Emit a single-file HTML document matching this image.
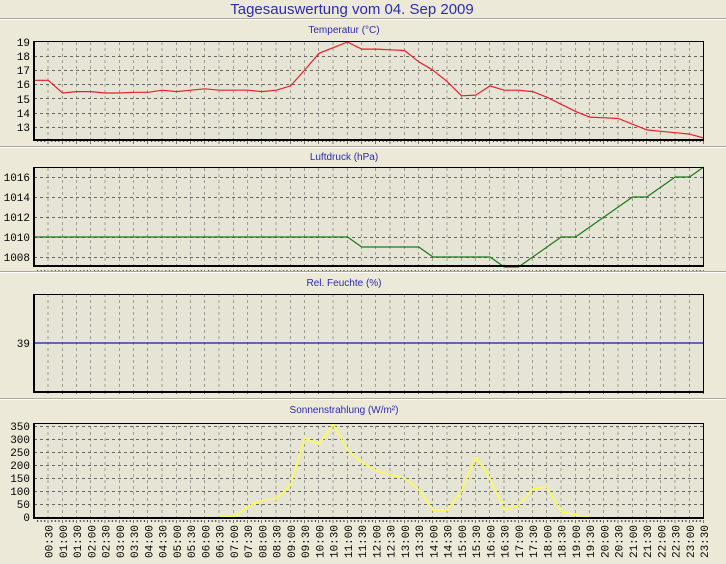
<!DOCTYPE html>
<html><head><meta charset="utf-8"><style>
html,body{margin:0;padding:0;background:#ECE9D8;}
svg{display:block;}
</style></head><body>
<svg width="726" height="564" xmlns="http://www.w3.org/2000/svg" font-family="Liberation Sans, sans-serif">
<defs>
<pattern id="vg" x="34" y="0" width="14.25" height="6" patternUnits="userSpaceOnUse">
<line x1="14.25" y1="0" x2="14.25" y2="3" stroke="#555" stroke-width="1"/>
</pattern>
<pattern id="tk" x="34" y="0" width="14.25" height="10" patternUnits="userSpaceOnUse">
<line x1="14.25" y1="0" x2="14.25" y2="4" stroke="#000" stroke-width="1"/>
<line x1="3.56" y1="0" x2="3.56" y2="2" stroke="#333" stroke-width="1"/>
<line x1="7.12" y1="0" x2="7.12" y2="2" stroke="#333" stroke-width="1"/>
<line x1="10.69" y1="0" x2="10.69" y2="2" stroke="#333" stroke-width="1"/>
</pattern>
</defs>
<rect width="726" height="564" fill="#ECE9D8"/>
<text x="352" y="14" text-anchor="middle" font-size="15" fill="#2b2bb0">Tagesauswertung vom 04. Sep 2009</text>
<g stroke-width="1">
<line x1="0" y1="18.5" x2="726" y2="18.5" stroke="#aca899"/><line x1="0" y1="19.5" x2="726" y2="19.5" stroke="#fff"/>
<line x1="0" y1="146.5" x2="726" y2="146.5" stroke="#aca899"/><line x1="0" y1="147.5" x2="726" y2="147.5" stroke="#fff"/>
<line x1="0" y1="271.5" x2="726" y2="271.5" stroke="#aca899"/><line x1="0" y1="272.5" x2="726" y2="272.5" stroke="#fff"/>
<line x1="0" y1="398.5" x2="726" y2="398.5" stroke="#aca899"/><line x1="0" y1="399.5" x2="726" y2="399.5" stroke="#fff"/>
</g>
<g font-size="10" fill="#2b2bb0" text-anchor="middle">
<text x="344" y="33">Temperatur (°C)</text>
<text x="344" y="160">Luftdruck (hPa)</text>
<text x="344" y="286">Rel. Feuchte (%)</text>
<text x="344" y="413">Sonnenstrahlung (W/m²)</text>
</g>
<g fill="#E6E5D5">
<rect x="34" y="41" width="670" height="99"/>
<rect x="34" y="167" width="670" height="99"/>
<rect x="34" y="294" width="670" height="98"/>
<rect x="34" y="423" width="670" height="95"/>
</g>
<g fill="url(#vg)">
<rect x="34" y="41" width="662" height="99"/>
<rect x="34" y="167" width="662" height="99"/>
<rect x="34" y="294" width="662" height="98"/>
<rect x="34" y="423" width="662" height="95"/>
</g>
<g fill="url(#tk)">
<rect x="34" y="141" width="670" height="4"/>
<rect x="34" y="267" width="670" height="4"/>
<rect x="34" y="393" width="670" height="4"/>
<rect x="34" y="519" width="670" height="4"/>
</g>
<g stroke="#666" stroke-dasharray="3,3" stroke-width="1">
<line x1="34" x2="704" y1="56.5" y2="56.5"/><line x1="34" x2="704" y1="70.5" y2="70.5"/><line x1="34" x2="704" y1="84.5" y2="84.5"/><line x1="34" x2="704" y1="98.5" y2="98.5"/><line x1="34" x2="704" y1="113.5" y2="113.5"/><line x1="34" x2="704" y1="127.5" y2="127.5"/>
<line x1="34" x2="704" y1="177.5" y2="177.5"/><line x1="34" x2="704" y1="197.5" y2="197.5"/><line x1="34" x2="704" y1="217.5" y2="217.5"/><line x1="34" x2="704" y1="237.5" y2="237.5"/><line x1="34" x2="704" y1="257.5" y2="257.5"/>
<line x1="34" x2="704" y1="426.5" y2="426.5"/><line x1="34" x2="704" y1="439.5" y2="439.5"/><line x1="34" x2="704" y1="452.5" y2="452.5"/><line x1="34" x2="704" y1="465.5" y2="465.5"/><line x1="34" x2="704" y1="478.5" y2="478.5"/><line x1="34" x2="704" y1="491.5" y2="491.5"/><line x1="34" x2="704" y1="504.5" y2="504.5"/><line x1="34" x2="704" y1="517.5" y2="517.5"/>
</g>
<polyline fill="none" stroke="#e8202a" stroke-width="1.2" points="34,80.3 48.25,80.3 62.5,93 76.75,91.6 91,91.6 105.25,93 119.5,93 133.75,92.3 148,92.3 162.25,90.2 176.5,91.6 190.75,90.2 205,88.8 219.25,90.2 233.5,90.2 247.75,90.2 262,91.6 276.25,90.2 290.5,85.9 304.75,70 319,53.3 333.25,47.7 347.5,42 361.75,49.1 376,49.1 390.25,49.8 404.5,50.5 418.75,61.8 433,70.3 447.25,81.7 461.5,95.8 475.75,95.1 490,85.9 504.25,90.2 518.5,90.2 532.75,91.6 547,97.3 561.25,104.3 575.5,111.4 589.75,117.1 604,117.8 618.25,118.5 632.5,124.2 646.75,129.9 661,131.3 675.25,132.7 689.5,134.1 703.75,138"/>
<polyline fill="none" stroke="#1a7a1a" stroke-width="1.2" points="34,237 347.5,237 361.75,247 418.75,247 433,257 490,257 504.25,267 518.5,267 532.75,257 547,247 561.25,237 575.5,237 589.75,227 604,217 618.25,207 632.5,197 646.75,197 661,187 675.25,177 689.5,177 703.75,167"/>
<line x1="34" x2="704" y1="343" y2="343" stroke="#1a1aa0" stroke-width="1.3"/>
<polyline fill="none" stroke="#ffff40" stroke-width="1.4" points="219.25,517 233.5,517 247.75,506.6 262,500 276.25,498.8 290.5,485 304.75,438.2 319,444.2 333.25,424.2 347.5,450.2 361.75,462.4 376,470.2 390.25,475.4 404.5,478 418.75,489.7 433,510 447.25,510 461.5,491 475.75,457.2 490,478 504.25,510 518.5,505.3 532.75,488.9 547,487.1 561.25,511.8 575.5,515 589.75,517"/>
<g fill="none" stroke="#000">
<rect x="34" y="41.5" width="669.5" height="98" stroke-width="1"/>
<rect x="34" y="167.5" width="669.5" height="98.5" stroke-width="1"/>
<rect x="34" y="294.5" width="669.5" height="97.5" stroke-width="1"/>
<rect x="34" y="423.5" width="669.5" height="94.5" stroke-width="1"/>
</g>
<g stroke="#000" stroke-width="2">
<line x1="34" y1="41" x2="34" y2="141"/><line x1="33" y1="140" x2="704" y2="140"/>
<line x1="34" y1="167" x2="34" y2="267"/><line x1="33" y1="266" x2="704" y2="266"/>
<line x1="34" y1="294" x2="34" y2="393"/><line x1="33" y1="392" x2="704" y2="392"/>
<line x1="34" y1="423" x2="34" y2="519"/><line x1="33" y1="518" x2="704" y2="518"/>
</g>
<g font-family="Liberation Mono, monospace" font-size="11" fill="#000" text-anchor="end">
<text x="30" y="46">19</text><text x="30" y="60">18</text><text x="30" y="74">17</text><text x="30" y="88">16</text><text x="30" y="103">15</text><text x="30" y="117">14</text><text x="30" y="131">13</text>
<text x="30" y="181">1016</text><text x="30" y="201">1014</text><text x="30" y="221">1012</text><text x="30" y="241">1010</text><text x="30" y="261">1008</text>
<text x="30" y="347">39</text>
<text x="30" y="430">350</text><text x="30" y="443">300</text><text x="30" y="456">250</text><text x="30" y="469">200</text><text x="30" y="482">150</text><text x="30" y="495">100</text><text x="30" y="508">50</text><text x="30" y="521">0</text>
</g>
<g font-family="Liberation Mono, monospace" font-size="11" fill="#000" text-anchor="end">
<text transform="translate(52.5,525) rotate(-90)">00:30</text>
<text transform="translate(66.75,525) rotate(-90)">01:00</text>
<text transform="translate(81,525) rotate(-90)">01:30</text>
<text transform="translate(95.25,525) rotate(-90)">02:00</text>
<text transform="translate(109.5,525) rotate(-90)">02:30</text>
<text transform="translate(123.75,525) rotate(-90)">03:00</text>
<text transform="translate(138,525) rotate(-90)">03:30</text>
<text transform="translate(152.25,525) rotate(-90)">04:00</text>
<text transform="translate(166.5,525) rotate(-90)">04:30</text>
<text transform="translate(180.75,525) rotate(-90)">05:00</text>
<text transform="translate(195,525) rotate(-90)">05:30</text>
<text transform="translate(209.25,525) rotate(-90)">06:00</text>
<text transform="translate(223.5,525) rotate(-90)">06:30</text>
<text transform="translate(237.75,525) rotate(-90)">07:00</text>
<text transform="translate(252,525) rotate(-90)">07:30</text>
<text transform="translate(266.25,525) rotate(-90)">08:00</text>
<text transform="translate(280.5,525) rotate(-90)">08:30</text>
<text transform="translate(294.75,525) rotate(-90)">09:00</text>
<text transform="translate(309,525) rotate(-90)">09:30</text>
<text transform="translate(323.25,525) rotate(-90)">10:00</text>
<text transform="translate(337.5,525) rotate(-90)">10:30</text>
<text transform="translate(351.75,525) rotate(-90)">11:00</text>
<text transform="translate(366,525) rotate(-90)">11:30</text>
<text transform="translate(380.25,525) rotate(-90)">12:00</text>
<text transform="translate(394.5,525) rotate(-90)">12:30</text>
<text transform="translate(408.75,525) rotate(-90)">13:00</text>
<text transform="translate(423,525) rotate(-90)">13:30</text>
<text transform="translate(437.25,525) rotate(-90)">14:00</text>
<text transform="translate(451.5,525) rotate(-90)">14:30</text>
<text transform="translate(465.75,525) rotate(-90)">15:00</text>
<text transform="translate(480,525) rotate(-90)">15:30</text>
<text transform="translate(494.25,525) rotate(-90)">16:00</text>
<text transform="translate(508.5,525) rotate(-90)">16:30</text>
<text transform="translate(522.75,525) rotate(-90)">17:00</text>
<text transform="translate(537,525) rotate(-90)">17:30</text>
<text transform="translate(551.25,525) rotate(-90)">18:00</text>
<text transform="translate(565.5,525) rotate(-90)">18:30</text>
<text transform="translate(579.75,525) rotate(-90)">19:00</text>
<text transform="translate(594,525) rotate(-90)">19:30</text>
<text transform="translate(608.25,525) rotate(-90)">20:00</text>
<text transform="translate(622.5,525) rotate(-90)">20:30</text>
<text transform="translate(636.75,525) rotate(-90)">21:00</text>
<text transform="translate(651,525) rotate(-90)">21:30</text>
<text transform="translate(665.25,525) rotate(-90)">22:00</text>
<text transform="translate(679.5,525) rotate(-90)">22:30</text>
<text transform="translate(693.75,525) rotate(-90)">23:00</text>
<text transform="translate(708,525) rotate(-90)">23:30</text>
</g>
</svg>
</body></html>
